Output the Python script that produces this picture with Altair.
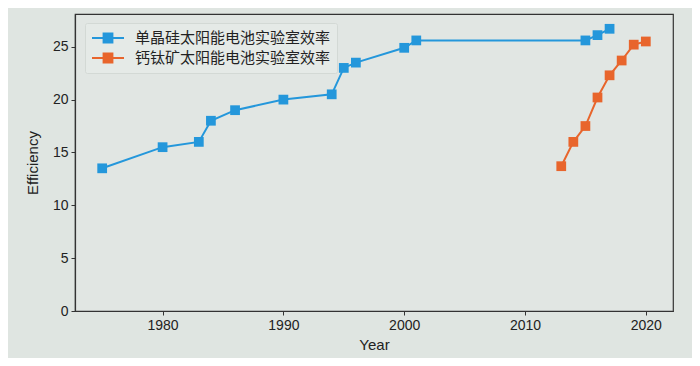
import altair as alt
import pandas as pd

si_years = [1975, 1980, 1983, 1984, 1986, 1990, 1994, 1995, 1996, 2000, 2001, 2015, 2016, 2017]
si_eff = [13.5, 15.5, 16.0, 18.0, 19.0, 20.0, 20.5, 23.0, 23.5, 24.9, 25.6, 25.6, 26.1, 26.7]
pv_years = [2013, 2014, 2015, 2016, 2017, 2018, 2019, 2020]
pv_eff = [13.7, 16.0, 17.5, 20.2, 22.3, 23.7, 25.2, 25.5]
series_names = ["单晶硅太阳能电池实验室效率", "钙钛矿太阳能电池实验室效率"]
series_colors = ["#2497db", "#e8652c"]
x_ticks = [1980, 1990, 2000, 2010, 2020]
y_ticks = [0, 5, 10, 15, 20, 25]

df = pd.concat([
    pd.DataFrame({"Year": si_years, "Efficiency": si_eff, "series": series_names[0]}),
    pd.DataFrame({"Year": pv_years, "Efficiency": pv_eff, "series": series_names[1]}),
])

x = alt.X("Year:Q", scale=alt.Scale(domain=[1972.75, 2022.25], nice=False, zero=False),
          axis=alt.Axis(values=x_ticks, format="d", grid=False, title="Year"))
y = alt.Y("Efficiency:Q", scale=alt.Scale(domain=[0, 28.1], nice=False),
          axis=alt.Axis(values=y_ticks, grid=False, title="Efficiency"))

cscale = alt.Scale(domain=series_names, range=series_colors)
FONT = "Noto Sans CJK SC"

legend = alt.Legend(
    title=None, orient="none", legendX=10, legendY=9,
    symbolType="M-2,0H2M-0.55,-0.55H0.55V0.55H-0.55Z", symbolSize=256, symbolStrokeWidth=2,
    symbolOffset=8, labelOffset=18, labelLimit=500,
    labelFont=FONT, labelFontSize=15, labelColor="#222",
    rowPadding=2, padding=6,
    fillColor="#e5eae7", strokeColor="#d3d9d5", cornerRadius=2,
)
color = alt.Color("series:N", scale=cscale, sort=series_names, legend=legend)

line = alt.Chart(df).mark_line(strokeWidth=2).encode(x=x, y=y, color=color)
pts = alt.Chart(df).mark_point(shape="square", filled=True, size=95, opacity=1).encode(
    x=x, y=y, color=color)

chart = alt.layer(line, pts).properties(
    width=598, height=297,
    background="#dfe5e1",
    padding={"left": 67, "top": 6, "right": 19, "bottom": 47},
    autosize=alt.AutoSizeParams(type="none"),
).configure_view(
    stroke="#333333", strokeWidth=1.2, fill="#e1e6e3",
).configure_axis(
    domainColor="#333333", domainWidth=1.2, tickColor="#333333", tickSize=4,
    labelFont="Liberation Sans", labelFontSize=14, labelColor="#222222", labelPadding=3,
    titleFont="Liberation Sans", titleFontSize=15, titleFontWeight="normal", titleColor="#222222",
).configure_axisY(titlePadding=12).configure_axisX(titlePadding=5)

chart.save("out.html", embed_options={"renderer": "svg", "actions": False})
